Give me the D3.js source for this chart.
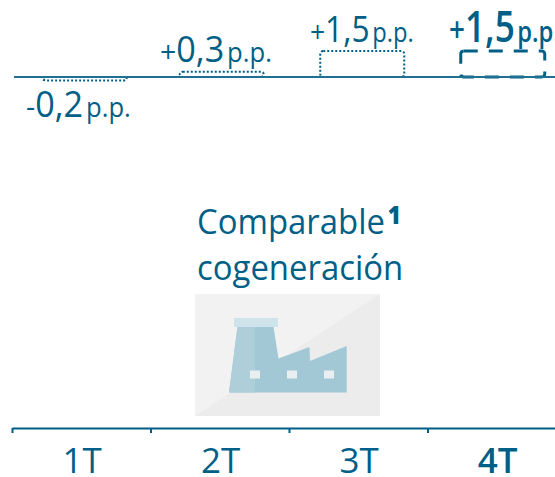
<!DOCTYPE html>
<html lang="es">
<head>
<meta charset="utf-8">
<style>
  html, body { margin: 0; padding: 0; background: #fff; }
  svg { display: block; }
  text { font-family: "Open Sans", sans-serif; fill: #005f86; }
</style>
</head>
<body>
<svg id="chart" width="555" height="477"></svg>
<script src="https://cdn.jsdelivr.net/npm/d3@7"></script>
<script>
// Quarterly change in percentage points
const quarters = ["1T", "2T", "3T", "4T"];
const changes = [-0.2, 0.3, 1.5, 1.5];
const unit = "p.p.";
const titleLines = ["Comparable", "cogeneración"];
const footnote = "1";

const ink = "#005f86";
const svg = d3.select("#chart");

const x = d3.scaleBand().domain(quarters).range([12, 566]);
const y = d3.scaleLinear().domain([-0.2, 1.5]).range([80.4, 51]);
const isLast = q => q === quarters[quarters.length - 1];
const signed = v => (v > 0 ? "+" : "-") + Math.abs(v).toFixed(1).replace(".", ",");

const barWidth = 84;
const barShift = [3.5, 2, 4, 6];
const labelLeft = [26, 160, 310, 449];
const labelBase = [117, 62, 42, 42];
const labelSqueeze = [0.95, 0.95, 0.88, 0.82];

// Change bars: dotted for closed quarters, dashed for the last one
svg.append("g").selectAll("rect").data(quarters).join("rect")
  .attr("x", (q, i) => x(q) + (x.bandwidth() - barWidth) / 2 + barShift[i])
  .attr("width", barWidth)
  .attr("y", (q, i) => Math.min(y(changes[i]), y(0)))
  .attr("height", (q, i) => Math.abs(y(changes[i]) - y(0)))
  .attr("rx", 3)
  .attr("fill", "none")
  .attr("stroke", ink)
  .attr("stroke-width", q => isLast(q) ? 3 : 2)
  .attr("stroke-dasharray", q => isLast(q) ? "14 11" : "2 2");

// Zero line of the change bars
svg.append("line")
  .attr("x1", 14).attr("x2", 555)
  .attr("y1", y(0)).attr("y2", y(0))
  .attr("stroke", "#1f6f93").attr("stroke-width", 2);

// Value labels: sign, figure and unit, the last quarter set larger and heavier
quarters.forEach((q, i) => {
  const last = isLast(q);
  const label = signed(changes[i]);
  const t = svg.append("text")
    .attr("transform", `translate(${labelLeft[i]},${labelBase[i]}) scale(${labelSqueeze[i]},1)`)
    .attr("font-weight", last ? 600 : 400);
  t.append("tspan").attr("font-size", last ? 34 : 30).text(label[0]);
  t.append("tspan").attr("font-size", last ? 43 : 36).text(label.slice(1));
  t.append("tspan").attr("dx", 3).attr("font-size", last ? 29 : 27).text(unit);
});

// Section title with its footnote mark
titleLines.forEach((line, i) => {
  const t = svg.append("text")
    .attr("transform", `translate(197,${234 + i * 46}) scale(0.94,1)`)
    .attr("font-size", 35).attr("font-weight", 400).text(line);
  if (i === 0) {
    t.append("tspan").attr("dx", 3).attr("dy", -10)
      .attr("font-size", 24).attr("font-weight", 800).text(footnote);
  }
});

// Factory pictogram on its grey tile
const icon = svg.append("g");
icon.append("rect").attr("x", 195).attr("y", 294).attr("width", 185).attr("height", 122).attr("fill", "#ececec");
icon.append("path").attr("d", "M195,294H380L195,416Z").attr("fill", "#f2f2f2");
icon.append("rect").attr("x", 234).attr("y", 318).attr("width", 44).attr("height", 9).attr("fill", "#cfe3ea");
icon.append("path")
  .attr("d", "M237.5,327H273.5L278.5,358.5L309.5,347L310,361L346.7,346V392.5H229Z")
  .attr("fill", "#a2c8d6");
icon.append("path").attr("d", "M237.5,327H255V392.5H229Z").attr("fill", "#aeceda");
icon.selectAll("rect.window").data([250, 287, 324]).join("rect")
  .attr("class", "window")
  .attr("x", d => d).attr("y", 370.5)
  .attr("width", 10).attr("height", 8)
  .attr("fill", "#e9eff0");

// Quarter axis, with ticks at the left edge of each band
const axis = d3.axisBottom(x).tickSize(5).tickSizeOuter(0).tickFormat("");
const axisG = svg.append("g").attr("transform", "translate(0,428)").call(axis);
axisG.select(".domain").attr("stroke", ink).attr("stroke-width", 2);
axisG.selectAll(".tick")
  .attr("transform", d => `translate(${x(d) + 0.5},0)`)
  .select("line").attr("stroke", ink).attr("stroke-width", 2);

svg.append("g").selectAll("text").data(quarters).join("text")
  .attr("transform", q => `translate(${x(q) + x.bandwidth() / 2 + 1},473)`)
  .attr("text-anchor", "middle")
  .attr("font-size", 35)
  .attr("font-weight", q => isLast(q) ? 600 : 400)
  .text(q => q);
</script>
</body>
</html>
